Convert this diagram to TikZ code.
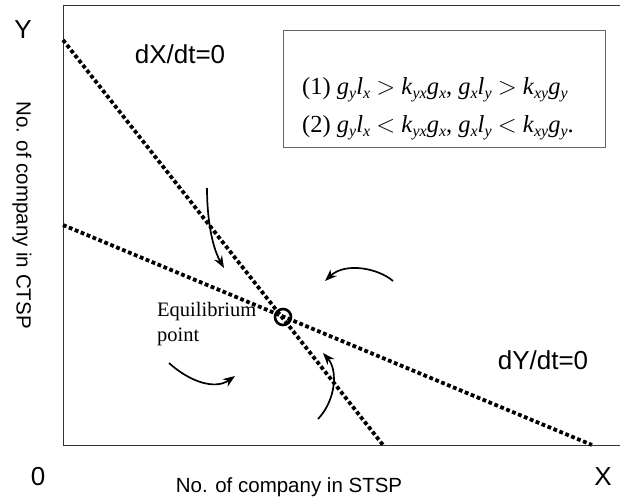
\documentclass[tikz,border=0pt]{standalone}
\usepackage{fontspec}
\setmainfont{Liberation Serif}
\newfontfamily\arialf{Liberation Sans}
\usetikzlibrary{arrows.meta}
\newcommand{\sbx}[1]{\raisebox{-4pt}{\fontsize{16}{16}\selectfont\itshape #1}}
\newcommand{\iv}[1]{\textit{#1}}
\begin{document}
\begin{tikzpicture}[x=1pt,y=-1pt,
  framel/.style={line width=1pt, draw=black!80},
  nullc/.style={line width=3.8pt, dash pattern=on 3.8pt off 2.6pt, line cap=butt},
  flow/.style={line width=1.7pt, -{Stealth[length=12pt,width=9pt]}},
  biglab/.style={font=\arialf\fontsize{26}{30}\selectfont, inner sep=0pt},
  axlab/.style={font=\arialf\fontsize{20.5}{24}\selectfont, inner sep=0pt},
  eqtext/.style={font=\fontsize{24.5}{28}\selectfont, inner sep=0pt, anchor=base west},
  condbox/.style={draw=black!60, line width=1pt}]
\useasboundingbox (0,0) rectangle (620,503);
% axes frame
\coordinate (tl) at (63,6);
\coordinate (tr) at (620,6);
\coordinate (bl) at (63,445);
\coordinate (br) at (620,445);
\draw[framel] (tr) -- (tl) -- (bl) -- (br);
% nullclines
\coordinate (xa) at (63,40);
\coordinate (xb) at (383,445);
\coordinate (ya) at (63,225);
\coordinate (yb) at (592,445);
\draw[nullc] (xa) -- (xb);
\draw[nullc] (ya) -- (yb);
% equilibrium
\node[draw, circle, line width=2.6pt, minimum size=16pt, inner sep=0pt] (eq) at (283,317) {};
% flow arrows
\coordinate (a1s) at (207,188); \coordinate (a1e) at (224,268);
\coordinate (a2s) at (393,281); \coordinate (a2e) at (325,281);
\coordinate (a3s) at (169,363); \coordinate (a3e) at (235,376);
\coordinate (a4s) at (318,419); \coordinate (a4e) at (323,353);
\draw[flow] (a1s) .. controls (207,215) and (211,245) .. (a1e);
\draw[flow] (a2s) .. controls (378,268) and (345,262) .. (a2e);
\draw[flow] (a3s) .. controls (190,382) and (215,390) .. (a3e);
\draw[flow] (a4s) .. controls (336,400) and (338,370) .. (a4e);
% labels
\node[biglab] (ylab) at (23,30) {Y};
\node[biglab] (zlab) at (38,477) {0};
\node[biglab] (xlab) at (603,477) {X};
\node[biglab] (dx) at (180,54) {dX/dt=0};
\node[biglab] (dy) at (543,360) {dY/dt=0};
\node[axlab] (stsp) at (289,487) {No. of company in STSP};
\node[axlab, rotate=-90] (ctsp) at (22,215) {No. of company in CTSP};
\node[font=\fontsize{20.5}{25}\selectfont, inner sep=0pt, anchor=north west, align=left] (eql) at (157,302) {Equilibrium\\point};
% condition box
\draw[condbox] (283,31) rectangle (605,147);
\node[eqtext] (c1) at (302,94) {(1) \iv{g}\sbx{y}\iv{l}\sbx{x} {$>$} \iv{k}\sbx{yx}\iv{g}\sbx{x}, \iv{g}\sbx{x}\iv{l}\sbx{y} {$>$} \iv{k}\sbx{xy}\iv{g}\sbx{y}};
\node[eqtext] (c2) at (302,132) {(2) \iv{g}\sbx{y}\iv{l}\sbx{x} {$<$} \iv{k}\sbx{yx}\iv{g}\sbx{x}, \iv{g}\sbx{x}\iv{l}\sbx{y} {$<$} \iv{k}\sbx{xy}\iv{g}\sbx{y}.};
\end{tikzpicture}
\end{document}
